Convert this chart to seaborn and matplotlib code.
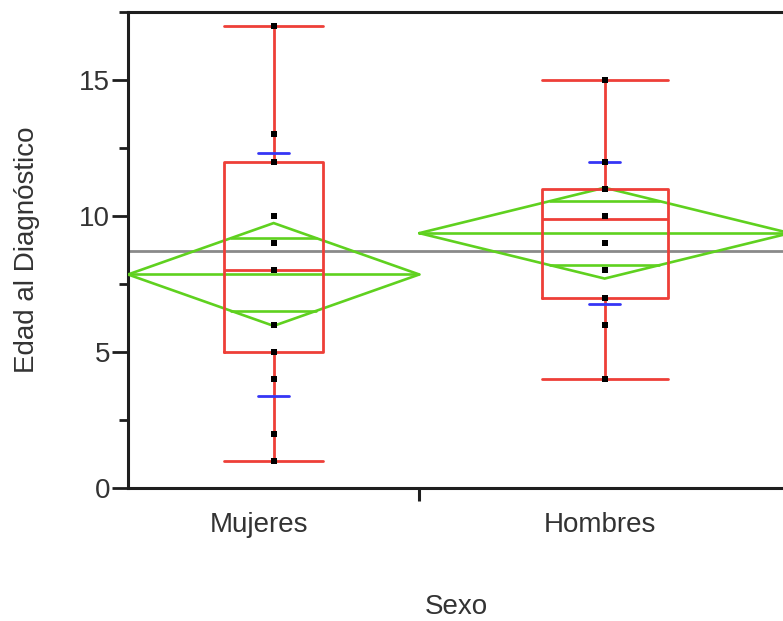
import numpy as np
import pandas as pd
import matplotlib
matplotlib.use("Agg")
import matplotlib.pyplot as plt
import seaborn as sns

# ---- data -------------------------------------------------------------
groups = ["Mujeres", "Hombres"]
mujeres_edad = [1, 2, 4, 5, 6, 8, 9, 10, 12, 13, 17]
hombres_edad = [4, 6, 7, 8, 9, 10, 11, 12, 15]
group_n = [11, 14]

# quantile box summaries
q1 = [5, 7]
median = [8, 9.9]
q3 = [12, 11]
whisker_lo = [1, 4]
whisker_hi = [17, 15]

# means, standard deviations and 95% CI half-widths
group_mean = [7.85, 9.37]
group_sd = [4.45, 2.62]
ci_half = [1.89, 1.67]
grand_mean = 8.73

yticks_major = [0, 5, 10, 15]
yticks_minor = [2.5, 7.5, 12.5, 17.5]

# ---- style ------------------------------------------------------------
sns.set_style("white")
plt.rcParams["font.family"] = ["Liberation Sans", "DejaVu Sans"]
TEXT = "#333333"
RED = "#ee3f38"
GREEN = "#5fd11f"
BLUE = "#3535f5"
GREY = "#8a8a8a"
AXIS = "#1e1e1e"

df = pd.DataFrame({
    "Sexo": ["Mujeres"] * len(mujeres_edad) + ["Hombres"] * len(hombres_edad),
    "Edad": mujeres_edad + hombres_edad,
})

fig = plt.figure(figsize=(7.83, 6.21), dpi=100)
ax = fig.add_axes([128 / 783, 133 / 621, 662 / 783, 476 / 621])

# group slots are proportional to sample size; total span of 2 units
widths = [2 * n / sum(group_n) for n in group_n]
left_edge = -widths[0] / 2
centers = [0.0, 1.0]
bounds = [(left_edge, left_edge + widths[0]),
          (left_edge + widths[0], left_edge + widths[0] + widths[1])]

# grand mean reference line
ax.axhline(grand_mean, color=GREY, lw=2.0, zorder=1)

LW = 1.9
for i in range(len(groups)):
    c = centers[i]
    lo, hi = bounds[i]
    m, ci = group_mean[i], ci_half[i]
    # means diamond
    ax.plot([lo, c, hi, c, lo], [m, m + ci, m, m - ci, m],
            color=GREEN, lw=LW, zorder=3, solid_joinstyle="miter")
    ax.plot([lo, hi], [m, m], color=GREEN, lw=LW, zorder=3)
    ov = ci / np.sqrt(2)
    hw = (hi - lo) / 2 * (1 - 1 / np.sqrt(2))
    for s in (1, -1):
        ax.plot([c - hw, c + hw], [m + s * ov, m + s * ov],
                color=GREEN, lw=LW, zorder=3)

# quantile boxes
box_stats = []
for i in range(len(groups)):
    box_stats.append(dict(med=median[i], q1=q1[i], q3=q3[i],
                          whislo=whisker_lo[i], whishi=whisker_hi[i],
                          fliers=[]))
box_widths = [0.34 * w for w in widths]
line_kw = dict(color=RED, lw=2.0)
ax.bxp(box_stats, positions=centers, widths=box_widths, showfliers=False,
       boxprops=line_kw, medianprops=line_kw, whiskerprops=line_kw,
       capprops=line_kw, capwidths=box_widths, manage_ticks=False,
       zorder=4)

# standard deviation marks
sd_hw = 0.047
for i in range(len(groups)):
    for s in (1, -1):
        y = group_mean[i] + s * group_sd[i]
        ax.plot([centers[i] - sd_hw, centers[i] + sd_hw], [y, y],
                color=BLUE, lw=2.0, zorder=5)

# individual observations
sns.stripplot(data=df, x="Sexo", y="Edad", order=groups, jitter=False,
              color="black", size=4.0, marker="s", linewidth=0, ax=ax,
              zorder=6)

ax.set_xlim(bounds[0][0], bounds[1][1])
ax.set_ylim(0, 17.5)
ax.set_xlabel("")
ax.set_ylabel("")

# axes frame
for side in ("left", "top", "bottom"):
    ax.spines[side].set_color(AXIS)
    ax.spines[side].set_linewidth(2.2)
ax.spines["right"].set_visible(False)

ax.set_yticks(yticks_major)
ax.set_yticklabels([str(t) for t in yticks_major])
ax.set_yticks(yticks_minor, minor=True)
ax.tick_params(axis="y", which="major", length=11.5, width=2.0, pad=1.5,
               color=AXIS, labelsize=20, labelcolor=TEXT, left=True)
ax.tick_params(axis="y", which="minor", length=6.5, width=2.0,
               color=AXIS, left=True)

# x: divider tick between groups, category names without tick marks
label_pos = [centers[0] - 0.045, centers[1] - 0.015]
ax.set_xticks([bounds[0][1]])
ax.set_xticklabels([""])
ax.set_xticks(label_pos, minor=True)
ax.set_xticklabels(groups, minor=True)
ax.tick_params(axis="x", which="major", length=9.5, width=2.2,
               color=AXIS, bottom=True)
ax.tick_params(axis="x", which="minor", length=0, pad=17,
               labelsize=20, labelcolor=TEXT)

fig.text(27 / 783, 1 - 250 / 621, "Edad al Diagnóstico", rotation=90,
         ha="center", va="center", fontsize=20, color=TEXT)
fig.text(456 / 783, 1 - 607 / 621, "Sexo", ha="center", va="center",
         fontsize=20, color=TEXT)

fig.savefig("out.png", dpi=100)
